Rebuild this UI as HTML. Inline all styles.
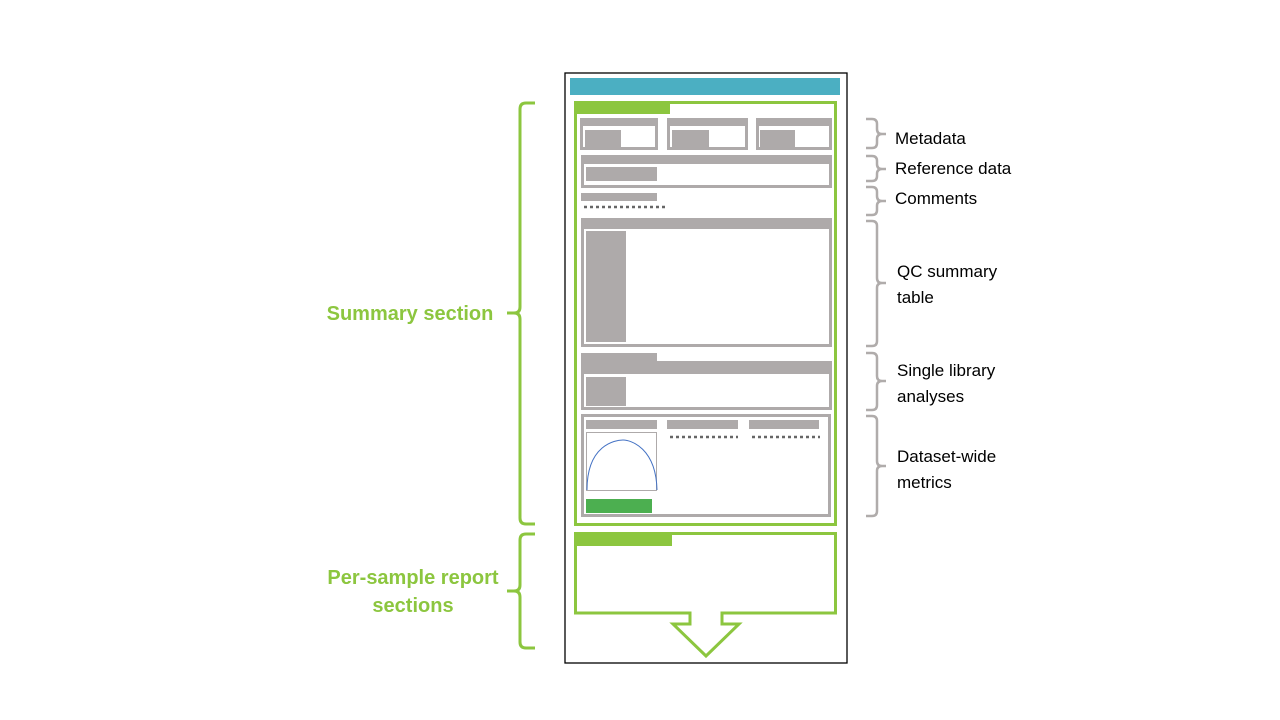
<!DOCTYPE html>
<html><head><meta charset="utf-8"><style>
html,body{margin:0;padding:0;background:#fff;}
svg{display:block;}
text{font-family:"Liberation Sans",sans-serif;}
</style></head><body>
<svg width="1280" height="720" viewBox="0 0 1280 720" xmlns="http://www.w3.org/2000/svg">
<rect x="565" y="73" width="282" height="590" fill="#fff" stroke="#000" stroke-width="1.3"/>
<rect x="570" y="78" width="270" height="17" fill="#4bafc2"/>
<rect x="575.5" y="102.5" width="260" height="422" fill="none" stroke="#8cc63f" stroke-width="3"/>
<rect x="574" y="101" width="96" height="13" fill="#8cc63f"/>
<g fill="none" stroke="#aeaaaa" stroke-width="3">
<rect x="581.5" y="120.5" width="75" height="28"/>
<rect x="668.5" y="120.5" width="78" height="28"/>
<rect x="757.5" y="120.5" width="73" height="28"/>
<rect x="582.5" y="157.5" width="248" height="29"/>
<rect x="582.5" y="220.5" width="248" height="125"/>
<rect x="582.5" y="363.5" width="248" height="45"/>
<rect x="582.5" y="415.5" width="247" height="100"/>
</g>
<g fill="#aeaaaa">
<rect x="580" y="118" width="78" height="8"/>
<rect x="667" y="118" width="81" height="8"/>
<rect x="756" y="118" width="76" height="8"/>
<rect x="585" y="130" width="36" height="17"/>
<rect x="672" y="130" width="37" height="17"/>
<rect x="760" y="130" width="35" height="17"/>
<rect x="581" y="155" width="251" height="9"/>
<rect x="586" y="167" width="71" height="14"/>
<rect x="581" y="193" width="76" height="8"/>
<rect x="581" y="218" width="251" height="11"/>
<rect x="586" y="231" width="40" height="111"/>
<rect x="581" y="353" width="76" height="9"/>
<rect x="581" y="361" width="251" height="13"/>
<rect x="586" y="377" width="40" height="29"/>
<rect x="586" y="420" width="71" height="9"/>
<rect x="667" y="420" width="71" height="9"/>
<rect x="749" y="420" width="70" height="9"/>
</g>
<g stroke="#666" stroke-width="2.5" stroke-dasharray="3,3">
<line x1="584" y1="207" x2="666" y2="207"/>
<line x1="670" y1="437" x2="738" y2="437"/>
<line x1="752" y1="437" x2="820" y2="437"/>
</g>
<rect x="586.5" y="432.5" width="70" height="58" fill="none" stroke="#aeaaaa" stroke-width="1"/>
<path d="M587,490 C587,445 615,440 623,440 C631,440 656,448 657,490" fill="none" stroke="#4472c4" stroke-width="1"/>
<rect x="586" y="499" width="66" height="14" fill="#4caf50"/>
<path d="M575.5,533.5 H835.5 V613 H722 V624 H739 L706,656 L673,624 H690 V613 H575.5 Z" fill="none" stroke="#8cc63f" stroke-width="3"/>
<rect x="574" y="532" width="98" height="14" fill="#8cc63f"/>
<g fill="none" stroke="#8cc63f" stroke-width="3">
<path d="M535,103 H526 Q520,103 520,109 V307 Q520,313 514,313 H507 M514,313 Q520,313 520,319 V518 Q520,524 526,524 H535"/>
<path d="M535,534 H526 Q520,534 520,540 V585 Q520,591 514,591 H507 M514,591 Q520,591 520,597 V642 Q520,648 526,648 H535"/>
</g>
<g fill="none" stroke="#b0acab" stroke-width="2.5">
<path d="M866,119 H872 Q877,119 877,124 V129 Q877,134 882,134 H886 M882,134 Q877,134 877,139 V143 Q877,148 872,148 H866"/>
<path d="M866,156 H872 Q877,156 877,161 V164 Q877,169 882,169 H886 M882,169 Q877,169 877,174 V176 Q877,181 872,181 H866"/>
<path d="M866,187 H872 Q877,187 877,192 V196 Q877,201 882,201 H886 M882,201 Q877,201 877,206 V210 Q877,215 872,215 H866"/>
<path d="M866,221 H872 Q877,221 877,226 V278 Q877,283 882,283 H886 M882,283 Q877,283 877,288 V341 Q877,346 872,346 H866"/>
<path d="M866,353 H872 Q877,353 877,358 V376 Q877,381 882,381 H886 M882,381 Q877,381 877,386 V405 Q877,410 872,410 H866"/>
<path d="M866,416 H872 Q877,416 877,421 V461 Q877,466 882,466 H886 M882,466 Q877,466 877,471 V511 Q877,516 872,516 H866"/>
</g>
<g font-size="17" fill="#000">
<text x="895" y="144">Metadata</text>
<text x="895" y="174">Reference data</text>
<text x="895" y="204">Comments</text>
<text x="897" y="277">QC summary</text>
<text x="897" y="303">table</text>
<text x="897" y="376">Single library</text>
<text x="897" y="402">analyses</text>
<text x="897" y="462">Dataset-wide</text>
<text x="897" y="488">metrics</text>
</g>
<g font-size="20" font-weight="bold" fill="#8cc63f" text-anchor="middle">
<text x="410" y="320">Summary section</text>
<text x="413" y="584">Per-sample report</text>
<text x="413" y="612">sections</text>
</g>
</svg>
</body></html>
